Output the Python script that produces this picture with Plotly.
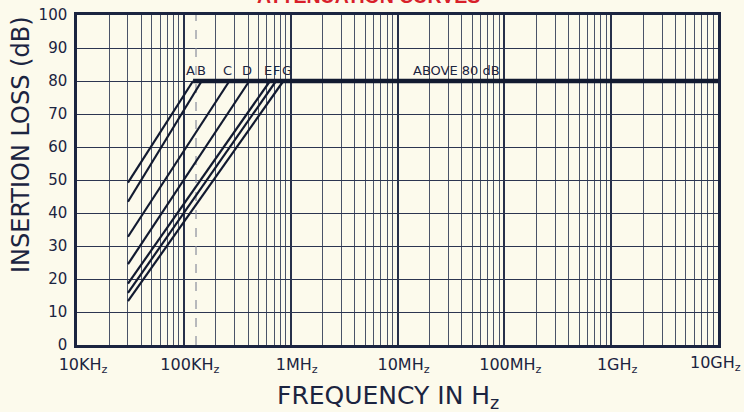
import numpy as np
import plotly.graph_objects as go

# ---- data ----
curve_labels = ["A", "B", "C", "D", "E", "F", "G"]
start_freq = 30e3
start_db = [49.2, 43.4, 32.8, 24.5, 18.6, 15.8, 13.3]
corner_freq = [122e3, 147e3, 267e3, 410e3, 641e3, 730e3, 855e3]
plateau_db = 80
plateau_end = 1e10
dashed_freq = 1.3e5
above_label_freq = 3.6e7
x_tickvals = [1e4, 1e5, 1e6, 1e7, 1e8, 1e9, 1e10]
x_ticktext = ["10KH<sub>z</sub>", "100KH<sub>z</sub>", "1MH<sub>z</sub>", "10MH<sub>z</sub>",
              "100MH<sub>z</sub>", "1GH<sub>z</sub>", "10GH<sub>z</sub>"]
y_tickvals = [0, 10, 20, 30, 40, 50, 60, 70, 80, 90, 100]

INK = "#1b2440"
BG = "#fcfaec"
FONT = "DejaVu Sans, Liberation Sans, sans-serif"

minor_vals = [d * m for d in [1e4, 1e5, 1e6, 1e7, 1e8, 1e9] for m in range(2, 10)]

fig = go.Figure()

# dashed reference line
fig.add_trace(go.Scatter(x=[dashed_freq, dashed_freq], y=[0, 100], mode="lines",
                         line=dict(color="#8a8e9c", width=1.2, dash="dash"),
                         hoverinfo="skip", showlegend=False))

# sloped portions
for lab, sdb, cf in zip(curve_labels, start_db, corner_freq):
    fig.add_trace(go.Scatter(x=[start_freq, cf], y=[sdb, plateau_db], mode="lines",
                             line=dict(color="#121a30", width=2.2),
                             name=lab, showlegend=False))

# plateau
fig.add_trace(go.Scatter(x=[corner_freq[0], plateau_end], y=[plateau_db, plateau_db],
                         mode="lines", line=dict(color="#121a30", width=4.5),
                         showlegend=False, name="above 80 dB"))

label_shift = [-3, 0, -2, -2, -2, 0, 4]
for lab, cf, sh in zip(curve_labels, corner_freq, label_shift):
    fig.add_annotation(x=np.log10(cf), y=plateau_db, xref="x", yref="y", text=lab, showarrow=False,
                       yanchor="bottom", yshift=1, xshift=sh,
                       font=dict(family=FONT, size=13, color=INK))

fig.add_annotation(x=np.log10(above_label_freq), y=plateau_db, xref="x", yref="y", text="ABOVE 80 dB",
                   showarrow=False, yanchor="bottom", yshift=1,
                   font=dict(family=FONT, size=13, color=INK))

# last frequency label, kept inside the page edge
fig.add_annotation(x=np.log10(x_tickvals[-1]), y=0, xref="x", yref="y", text=x_ticktext[-1],
                   showarrow=False, xanchor="right", yanchor="top", xshift=25, yshift=-6,
                   font=dict(family=FONT, size=16, color=INK))

# clipped red title
fig.add_annotation(x=(368 - 77) / (718 - 77), y=1 + (15 + 4) / 330, xref="paper", yref="paper",
                   yanchor="middle", text="<b>ATTENUATION CURVES</b>",
                   showarrow=False, font=dict(family="Liberation Sans, Arial, sans-serif", size=19.5, color="#d8202a"))

# axis titles
fig.add_annotation(x=0, y=(345 - 145) / 330, xref="paper", yref="paper", text="INSERTION LOSS (dB)",
                   textangle=-90, showarrow=False, xanchor="center", xshift=21 - 77,
                   font=dict(family=FONT, size=24, color=INK))
fig.add_annotation(x=(388 - 77) / 641, y=0, xref="paper", yref="paper", text="FREQUENCY IN H<sub>z</sub>",
                   showarrow=False, yanchor="middle", yshift=-(397 - 345),
                   font=dict(family=FONT, size=25, color=INK))

fig.update_layout(
    width=744, height=412,
    margin=dict(l=77, r=26, t=15, b=67, autoexpand=False),
    paper_bgcolor=BG, plot_bgcolor=BG,
    showlegend=False,
    xaxis=dict(type="log", range=[4, 10], tickvals=x_tickvals[:-1], ticktext=x_ticktext[:-1],
               showgrid=True, gridcolor="#27304a", gridwidth=2, automargin=False,
               minor=dict(tickvals=minor_vals, showgrid=True, gridcolor="#4a5368", gridwidth=1, ticks=""),
               showline=True, linecolor=INK, linewidth=2.5, mirror=True,
               ticks="", ticklabelshift=6, ticklabelstandoff=3, ticklabeloverflow="allow",
               tickfont=dict(family=FONT, size=16, color=INK), zeroline=False),
    yaxis=dict(range=[0, 100], tickvals=y_tickvals, showgrid=True, gridcolor="#2c3550", gridwidth=1.2,
               showline=True, linecolor=INK, linewidth=2.5, mirror=True, automargin=False,
               ticks="", ticklabelstandoff=4,
               tickfont=dict(family=FONT, size=15, color=INK), zeroline=False),
)

fig.write_html("out.html")
